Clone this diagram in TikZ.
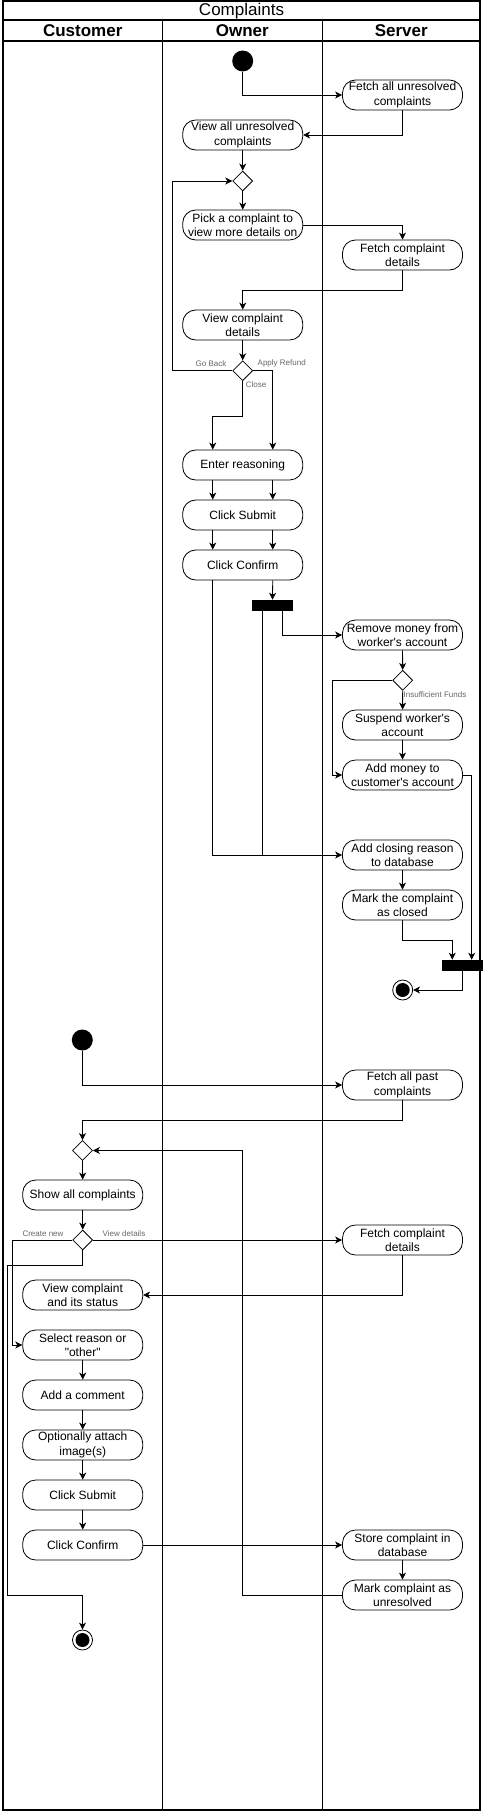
\documentclass[tikz,border=0pt]{standalone}
\usepackage{fontspec}
\setmainfont{Liberation Sans}[Ligatures=TeXOff]
\usetikzlibrary{arrows.meta,shapes.geometric,calc}
\begin{document}
\begin{tikzpicture}[x=1pt,y=-1pt,
 act/.style={draw, rounded corners=13pt, minimum width=120pt, minimum height=30pt, inner sep=0pt, align=center, font=\fontsize{12}{14.4}\selectfont, line width=0.8pt},
 dec/.style={draw, diamond, aspect=1, minimum width=20pt, minimum height=20pt, inner sep=0pt, line width=0.8pt},
 startnode/.style={circle, fill=black, minimum size=21pt, inner sep=0pt},
 endnode/.style={circle, draw, line width=0.8pt, minimum size=20pt, inner sep=0pt, path picture={\fill (path picture bounding box.center) circle (7pt);}},
 bar/.style={fill=black, minimum width=40.4pt, minimum height=10.7pt, inner sep=0pt},
 arr/.style={-{Stealth[length=7pt,width=7pt,inset=2pt]}, line width=0.8pt},
 ln/.style={line width=0.8pt},
 lbl/.style={font=\fontsize{8}{9}\selectfont, text=black!60, inner sep=0pt},
 lane/.style={line width=1.2pt},
 hdr/.style={font=\fontsize{17}{19}\selectfont\bfseries}
]
\useasboundingbox (0,0) rectangle (484,1811);
% frame
\draw[lane] (3,1) rectangle (480,1810);
\draw[lane] (3,20) -- (480,20);
\draw[lane] (3,41) -- (480,41);
\draw[lane] (162.3,20) -- (162.3,1810);
\draw[lane] (322.3,20) -- (322.3,1810);
\node[font=\fontsize{17}{19}\selectfont] (title) at (241.5,11) {Complaints};
\node[hdr] (hcust) at (82.7,31) {Customer};
\node[hdr] (hown) at (242.3,31) {Owner};
\node[hdr] (hsrv) at (401.3,31) {Server};

% Owner flow
\node[startnode] (s1) at (242.7,61) {};
\node[act] (fu) at (402.5,95) {Fetch all unresolved\\complaints};
\node[act] (vu) at (242.7,135) {View all unresolved\\complaints};
\node[dec] (d1) at (242.7,181) {};
\node[act] (pick) at (242.7,225) {Pick a complaint to\\view more details on};
\node[act] (fcd) at (402.5,255) {Fetch complaint\\details};
\node[act] (vcd) at (242.7,325) {View complaint\\details};
\node[dec] (d2) at (242.7,370.7) {};
\node[act] (er) at (242.7,465) {Enter reasoning};
\node[act] (cs) at (242.7,515) {Click Submit};
\node[act] (cc) at (242.7,565) {Click Confirm};
\node[bar] (bar1) at (272.5,605.3) {};
\node[act] (rm) at (402.5,635) {Remove money from\\worker's account};
\node[dec] (d3) at (402.7,680.3) {};
\node[act] (sw) at (402.5,725) {Suspend worker's\\account};
\node[act] (am) at (402.5,775) {Add money to\\customer's account};
\node[act] (acr) at (402.5,855) {Add closing reason\\to database};
\node[act] (mc) at (402.5,905) {Mark the complaint\\as closed};
\node[bar] (bar2) at (462.5,965.3) {};
\node[endnode] (f1) at (402.7,990) {};

\node[lbl] (lgb) at (211,363.3) {Go Back};
\node[lbl] (lar) at (281.7,363.3) {Apply Refund};
\node[lbl] (lcl) at (256,385) {Close};
\node[lbl] (lif) at (435,695) {Insufficient Funds};

\draw[arr] (s1) |- (fu.west);
\draw[arr] (fu.south) |- (vu.east);
\draw[arr] (vu) -- (d1);
\draw[arr] (d1) -- (pick);
\draw[arr] (pick.east) -| (fcd.north);
\draw[arr] (fcd.south) -- ++(0,20) -| (vcd.north);
\draw[arr] (vcd) -- (d2);
\draw[arr] (d2.west) -- ++(-60.4,0) |- (d1.west);
\draw[arr] (d2.east) -| ([xshift=30pt]er.north);
\draw[arr] (d2.south) -- ++(0,35) -| ([xshift=-30pt]er.north);
\draw[arr] ([xshift=-30pt]er.south) -- ([xshift=-30pt]cs.north);
\draw[arr] ([xshift=30pt]er.south) -- ([xshift=30pt]cs.north);
\draw[arr] ([xshift=-30pt]cs.south) -- ([xshift=-30pt]cc.south |- cc.north);
\draw[arr] ([xshift=30pt]cs.south) -- ([xshift=30pt]cc.south |- cc.north);
\draw[arr] ([xshift=30pt]cc.south) -- (bar1.north);
\draw[arr] ([xshift=-30pt]cc.south) |- (acr.west);
\draw[ln] ([xshift=-10pt]bar1.south) -- ([xshift=-10pt]bar1.south |- acr.west);
\draw[arr] ([xshift=10pt]bar1.south) |- (rm.west);
\draw[arr] (rm) -- (d3);
\draw[arr] (d3.west) -- ++(-60,0) |- (am.west);
\draw[arr] (d3) -- (sw);
\draw[arr] (sw) -- (am);
\draw[arr] (am.east) -| ([xshift=9.2pt]bar2.north);
\draw[arr] (acr) -- (mc);
\draw[arr] (mc.south) -- ++(0,20) -| ([xshift=-10.2pt]bar2.north);
\draw[arr] (bar2.south) |- (f1.east);

% Customer flow
\node[startnode] (s2) at (82.3,1040) {};
\node[act] (fpc) at (402.5,1085) {Fetch all past\\complaints};
\node[dec] (d4) at (82.5,1150.5) {};
\node[act] (sac) at (82.7,1195) {Show all complaints};
\node[dec] (d5) at (82.7,1240) {};
\node[act] (fcd2) at (402.5,1240) {Fetch complaint\\details};
\node[act] (vcs) at (82.7,1295) {View complaint\\and its status};
\node[act] (sr) at (82.7,1345) {Select reason or\\"other"};
\node[act] (ac) at (82.7,1395) {Add a comment};
\node[act] (oa) at (82.7,1445) {Optionally attach\\image(s)};
\node[act] (cs2) at (82.7,1495) {Click Submit};
\node[act] (cc2) at (82.7,1545) {Click Confirm};
\node[act] (st) at (402.5,1545) {Store complaint in\\database};
\node[act] (mcu) at (402.5,1595) {Mark complaint as\\unresolved};
\node[endnode] (f2) at (82.5,1640) {};

\node[lbl] (lcn) at (43,1234) {Create new};
\node[lbl] (lvd) at (124,1234) {View details};

\draw[arr] (s2) |- (fpc.west);
\draw[arr] (fpc.south) -- ++(0,20) -| (d4.north);
\draw[arr] (d4) -- (sac);
\draw[arr] (sac) -- (d5);
\draw[arr] (d5.east) -- (fcd2.west);
\draw[arr] (d5.west) -- ++(-60.4,0) |- (sr.west);
\draw[arr] (d5.south) -- ++(0,15) -- ++(-75.4,0) -- ++(0,330) -| (f2.north);
\draw[arr] (fcd2.south) |- (vcs.east);
\draw[arr] (sr) -- (ac);
\draw[arr] (ac) -- (oa);
\draw[arr] (oa) -- (cs2);
\draw[arr] (cs2) -- (cc2);
\draw[arr] (cc2.east) -- (st.west);
\draw[arr] (st) -- (mcu);
\draw[arr] (mcu.west) -- ++(-99.3,0) |- (d4.east);
\end{tikzpicture}
\end{document}
